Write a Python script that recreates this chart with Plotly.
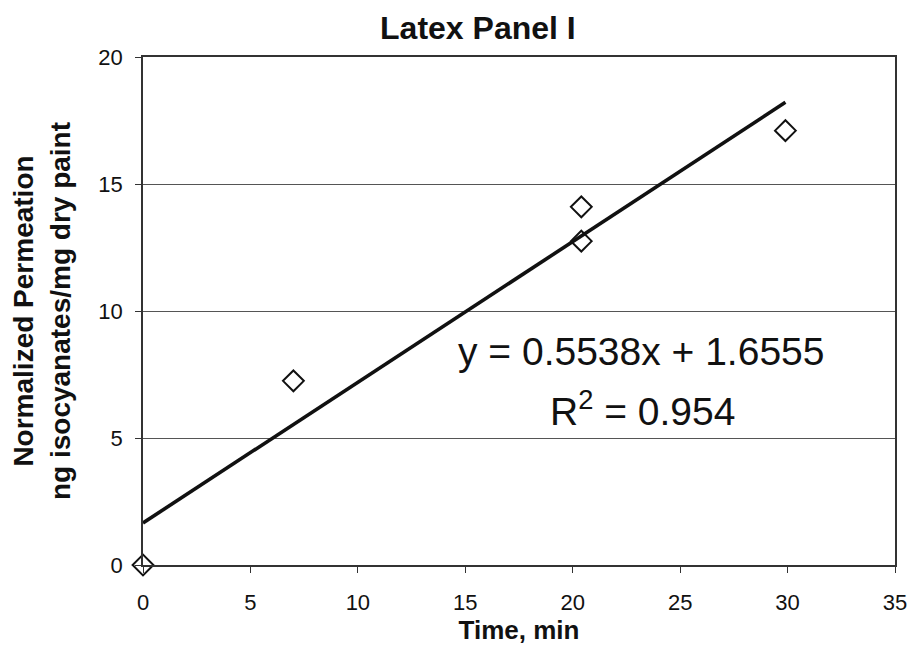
import plotly.graph_objects as go

time_min = [0, 7, 20.4, 20.4, 29.9]
permeation = [0, 7.25, 14.1, 12.75, 17.1]
slope = 0.5538
intercept = 1.6555
fit_x = [0, 29.9]
fit_y = [slope * v + intercept for v in fit_x]
x_ticks = [0, 5, 10, 15, 20, 25, 30, 35]
y_ticks = [0, 5, 10, 15, 20]

FONT = "Arial, Liberation Sans, sans-serif"
INK = "#111111"

fig = go.Figure()
fig.add_trace(go.Scatter(x=fit_x, y=fit_y, mode="lines",
                         line=dict(color=INK, width=3.6), showlegend=False, cliponaxis=False))
fig.add_trace(go.Scatter(x=time_min, y=permeation, mode="markers",
                         marker=dict(symbol="diamond-open", size=16, color=INK,
                                     line=dict(width=2, color=INK)),
                         showlegend=False, cliponaxis=False))

fig.add_annotation(x=23.17, y=8.4, xref="x", yref="y", text="y = 0.5538x + 1.6555",
                   showarrow=False, font=dict(family=FONT, size=39, color=INK))
fig.add_annotation(x=23.25, y=6.15, xref="x", yref="y", text="R<sup>2</sup> = 0.954",
                   showarrow=False, font=dict(family=FONT, size=39, color=INK))

fig.update_layout(
    width=919, height=650,
    margin=dict(l=143, r=16, t=57, b=85),
    paper_bgcolor="white", plot_bgcolor="white",
    font=dict(family=FONT, color=INK),
    title=dict(text="<b>Latex Panel I</b>", x=0.52, xanchor="center", xref="container",
               y=0.958, yanchor="middle", yref="container",
               font=dict(size=32, color=INK)),
    xaxis=dict(range=[0, 35], tickvals=x_ticks, showgrid=False, zeroline=False,
               showline=True, linecolor="#333333", linewidth=1.6, mirror=True,
               ticks="outside", ticklen=6, tickcolor="#333333", ticklabelstandoff=11,
               tickfont=dict(size=22),
               title=dict(text="<b>Time, min</b>", font=dict(size=26), standoff=1)),
    yaxis=dict(range=[0, 20], tickvals=y_ticks, showgrid=True, gridcolor="#555555", gridwidth=1,
               zeroline=False, showline=True, linecolor="#333333", linewidth=1.6, mirror=True,
               ticks="outside", ticklen=6, tickcolor="#333333", ticklabelstandoff=8,
               tickfont=dict(size=22),
               title=dict(text="<b>Normalized Permeation<br>ng isocyanates/mg dry paint</b>",
                          font=dict(size=28), standoff=20)),
)
fig.write_html("out.html")
